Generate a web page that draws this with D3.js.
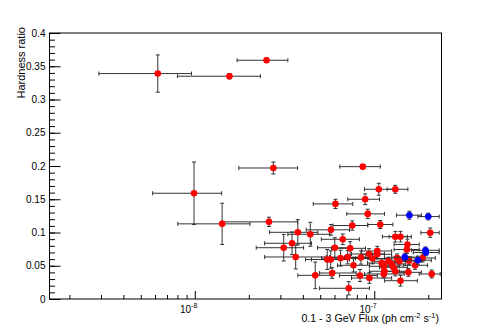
<!DOCTYPE html>
<html lang="en">
<head>
    <meta charset="UTF-8">
    <style>
        body { margin: 0; background: #fff; }
        text { font-family: "Liberation Sans", Arial, sans-serif; }
    </style>
</head>
<body>
<script src="https://d3js.org/d3.v7.min.js"></script>
<script>
// flux in units of 1e-8 ph cm^-2 s^-1
var redFlux  = [0.622, 1.56, 2.51, 0.99, 1.42, 2.59, 2.74, 8.63, 10.6, 13.1, 8.90, 6.08, 9.20,
                10.8, 7.54, 5.74, 20.5, 3.75, 4.40, 13.1, 14.0, 6.68, 3.48, 15.3, 3.13, 6.03, 7.34, 15.2,
                10.4, 9.34, 10.4, 3.65, 5.47, 5.72, 6.49, 7.11, 8.43, 9.77, 15.6, 18.6,
                11.0, 12.0, 12.5, 13.4, 13.8, 11.3, 12.8, 11.4, 13.1, 11.3, 15.5, 16.9, 7.66,
                4.69, 5.83, 8.33, 9.40, 14.0, 20.9, 7.21];
var redFluxLo = [0.292, 0.80, 1.72, 0.582, 0.804, 1.42, 1.76, 6.43, 8.82, 11.8, 7.12, 4.57, 7.03,
                9.20, 5.88, 4.18, 18.2, 2.61, 3.30, 11.1, 12.1, 5.07, 2.45, 12.9, 2.20, 4.83, 5.78, 12.9,
                8.49, 7.47, 8.49, 2.45, 4.14, 4.47, 5.09, 5.63, 6.83, 7.86, 13.5, 16.1,
                9.17, 10.0, 10.7, 11.4, 11.8, 9.40, 10.7, 9.40, 11.0, 8.82, 12.9, 14.5, 6.24,
                3.75, 4.96, 6.40, 7.47, 11.4, 17.8, 4.96];
var redFluxHi = [0.959, 2.32, 3.30, 1.41, 2.03, 3.74, 3.74, 10.8, 12.9, 15.4, 10.7, 7.59, 11.4,
                12.7, 9.20, 7.28, 23.0, 4.85, 5.63, 15.3, 16.1, 8.27, 4.47, 17.8, 4.04, 7.47, 8.93, 17.8,
                12.5, 11.4, 12.5, 5.40, 7.10, 7.28, 8.27, 8.93, 10.4, 12.1, 18.3, 21.9,
                13.5, 14.2, 14.9, 15.7, 16.1, 13.8, 15.3, 13.8, 15.3, 14.7, 18.3, 19.8, 9.40,
                5.76, 7.93, 10.4, 12.5, 17.4, 23.3, 9.40];
var redHR    = [0.339, 0.335, 0.359, 0.159, 0.113, 0.116, 0.197, 0.199, 0.165, 0.165, 0.150, 0.143, 0.128,
                0.112, 0.1105, 0.104, 0.0997, 0.1003, 0.0973, 0.0937, 0.0937, 0.0898, 0.0838, 0.082, 0.0771, 0.0771, 0.0762, 0.0744,
                0.0722, 0.0677, 0.0672, 0.0632, 0.0594, 0.0594, 0.0614, 0.0629, 0.0624, 0.0609, 0.0576, 0.0617,
                0.0541, 0.0567, 0.0526, 0.0617, 0.0567, 0.0492, 0.0477, 0.0417, 0.0417, 0.0376, 0.0401, 0.0507, 0.0507,
                0.0356, 0.0391, 0.0353, 0.0316, 0.0275, 0.0376, 0.0161];
var redHRErr = [0.028, 0.004, 0.003, 0.047, 0.031, 0.007, 0.009, 0.003, 0.009, 0.006, 0.008, 0.007, 0.007,
                0.006, 0.007, 0.008, 0.007, 0.019, 0.018, 0.008, 0.008, 0.008, 0.017, 0.008, 0.020, 0.015, 0.010, 0.006,
                0.007, 0.008, 0.007, 0.018, 0.015, 0.013, 0.012, 0.010, 0.010, 0.008, 0.006, 0.006,
                0.006, 0.006, 0.006, 0.006, 0.006, 0.007, 0.007, 0.007, 0.007, 0.006, 0.006, 0.006, 0.010,
                0.020, 0.008, 0.009, 0.008, 0.008, 0.006, 0.010];

var blueFlux   = [15.7, 20.0, 19.3, 19.4, 14.8, 17.5];
var blueFluxLo = [13.3, 17.5, 16.1, 16.5, 12.5, 14.9];
var blueFluxHi = [18.3, 23.0, 23.0, 23.0, 17.4, 20.8];
var blueHR     = [0.126, 0.124, 0.0732, 0.0699, 0.0629, 0.0583];
var blueHRErr  = [0.006, 0.005, 0.005, 0.005, 0.006, 0.006];

var yTicks = [0, 0.05, 0.1, 0.15, 0.2, 0.25, 0.3, 0.35, 0.4];
var yTickLabels = ["0", "0.05", "0.1", "0.15", "0.2", "0.25", "0.3", "0.35", "0.4"];
var xDecades = [1e-8, 1e-7];
var xDecadeLabels = ["-8", "-7"];

var width = 491, height = 332;
var plotLeft = 49.5, plotRight = 441.5, plotTop = 33, plotBottom = 299;

var svg = d3.select("body").append("svg")
    .attr("width", width)
    .attr("height", height);

var x = d3.scaleLog().domain([1.55e-9, 2.37e-7]).range([plotLeft, plotRight]);
var y = d3.scaleLinear().domain([0, 0.4]).range([plotBottom, plotTop]);

svg.append("clipPath").attr("id", "clip")
    .append("rect")
    .attr("x", plotLeft).attr("y", plotTop)
    .attr("width", plotRight - plotLeft).attr("height", plotBottom - plotTop);

// y axis: major ticks + minor ticks (inside the frame)
var yMinor = d3.range(0, 0.4001, 0.01);
svg.append("g")
    .attr("transform", "translate(" + plotLeft + ",0)")
    .call(d3.axisLeft(y).tickValues(yMinor).tickSize(-5.5).tickSizeOuter(0).tickFormat(""))
    .call(function(g) { g.select(".domain").remove(); });

svg.append("g")
    .attr("transform", "translate(" + plotLeft + ",0)")
    .call(d3.axisLeft(y).tickValues(yTicks).tickSize(-11).tickSizeOuter(0).tickPadding(4)
        .tickFormat(function(d, i) { return yTickLabels[i]; }))
    .call(function(g) {
        g.select(".domain").remove();
        g.selectAll("text").attr("font-size", 10).attr("fill", "#000")
            .attr("font-family", "'Liberation Sans', Arial, sans-serif");
    });

// x axis: log minor ticks 2..9 and decade ticks
var xMinor = [];
[1e-9, 1e-8, 1e-7].forEach(function(dec) {
    for (var k = 2; k <= 9; k++) {
        var v = k * dec;
        if (v > x.domain()[0] && v < x.domain()[1]) xMinor.push(v);
    }
});
svg.append("g")
    .attr("transform", "translate(0," + plotBottom + ")")
    .call(d3.axisBottom(x).tickValues(xMinor).tickSize(-4).tickSizeOuter(0).tickFormat(""))
    .call(function(g) { g.select(".domain").remove(); });

svg.append("g")
    .attr("transform", "translate(0," + plotBottom + ")")
    .call(d3.axisBottom(x).tickValues(xDecades).tickSize(-8).tickSizeOuter(0).tickFormat(""))
    .call(function(g) { g.select(".domain").remove(); });

var xl = svg.append("g").selectAll("text")
    .data(xDecades)
    .enter().append("text")
    .attr("x", function(d) { return x(d) + 2.5; })
    .attr("y", 312.5)
    .attr("text-anchor", "end")
    .attr("font-size", 10);
xl.append("tspan").text("10");
xl.append("tspan").attr("font-size", 7).attr("dy", -4.5)
    .text(function(d, i) { return xDecadeLabels[i]; });

// frame
svg.append("rect")
    .attr("x", plotLeft).attr("y", plotTop)
    .attr("width", plotRight - plotLeft).attr("height", plotBottom - plotTop)
    .attr("fill", "none").attr("stroke", "#000").attr("stroke-width", 1);

// axis titles
svg.append("text")
    .attr("transform", "translate(24.5,27) rotate(-90)")
    .attr("text-anchor", "end")
    .attr("font-size", 11)
    .text("Hardness ratio");

var xt = svg.append("text")
    .attr("x", 439).attr("y", 321.7)
    .attr("text-anchor", "end")
    .attr("font-size", 10.6);
xt.append("tspan").text("0.1 - 3 GeV Flux (ph cm");
xt.append("tspan").attr("font-size", 7.5).attr("dy", -4).text("-2");
xt.append("tspan").attr("dy", 4).text(" s");
xt.append("tspan").attr("font-size", 7.5).attr("dy", -4).text("-1");
xt.append("tspan").attr("dy", 4).text(")");

// points with error bars
function drawSeries(flux, lo, hi, hr, err, color) {
    var g = svg.append("g").attr("clip-path", "url(#clip)");
    var idx = d3.range(flux.length);
    var cap = 2;
    var bars = g.selectAll("g.pt").data(idx).enter().append("g")
        .attr("stroke", "#333").attr("stroke-width", 1);
    bars.append("line")
        .attr("x1", function(i) { return x(lo[i] * 1e-8); })
        .attr("x2", function(i) { return x(hi[i] * 1e-8); })
        .attr("y1", function(i) { return y(hr[i]); })
        .attr("y2", function(i) { return y(hr[i]); });
    bars.append("line")
        .attr("x1", function(i) { return x(lo[i] * 1e-8); })
        .attr("x2", function(i) { return x(lo[i] * 1e-8); })
        .attr("y1", function(i) { return y(hr[i]) - cap; })
        .attr("y2", function(i) { return y(hr[i]) + cap; });
    bars.append("line")
        .attr("x1", function(i) { return x(hi[i] * 1e-8); })
        .attr("x2", function(i) { return x(hi[i] * 1e-8); })
        .attr("y1", function(i) { return y(hr[i]) - cap; })
        .attr("y2", function(i) { return y(hr[i]) + cap; });
    bars.append("line")
        .attr("x1", function(i) { return x(flux[i] * 1e-8); })
        .attr("x2", function(i) { return x(flux[i] * 1e-8); })
        .attr("y1", function(i) { return y(hr[i] - err[i]); })
        .attr("y2", function(i) { return y(hr[i] + err[i]); });
    bars.append("line")
        .attr("x1", function(i) { return x(flux[i] * 1e-8) - cap; })
        .attr("x2", function(i) { return x(flux[i] * 1e-8) + cap; })
        .attr("y1", function(i) { return y(hr[i] - err[i]); })
        .attr("y2", function(i) { return y(hr[i] - err[i]); });
    bars.append("line")
        .attr("x1", function(i) { return x(flux[i] * 1e-8) - cap; })
        .attr("x2", function(i) { return x(flux[i] * 1e-8) + cap; })
        .attr("y1", function(i) { return y(hr[i] + err[i]); })
        .attr("y2", function(i) { return y(hr[i] + err[i]); });
    g.selectAll("circle").data(idx).enter().append("circle")
        .attr("cx", function(i) { return x(flux[i] * 1e-8); })
        .attr("cy", function(i) { return y(hr[i]); })
        .attr("r", 3.3)
        .attr("fill", color);
}

drawSeries(redFlux, redFluxLo, redFluxHi, redHR, redHRErr, "#ff0000");
drawSeries(blueFlux, blueFluxLo, blueFluxHi, blueHR, blueHRErr, "#0000ff");
</script>
</body>
</html>
